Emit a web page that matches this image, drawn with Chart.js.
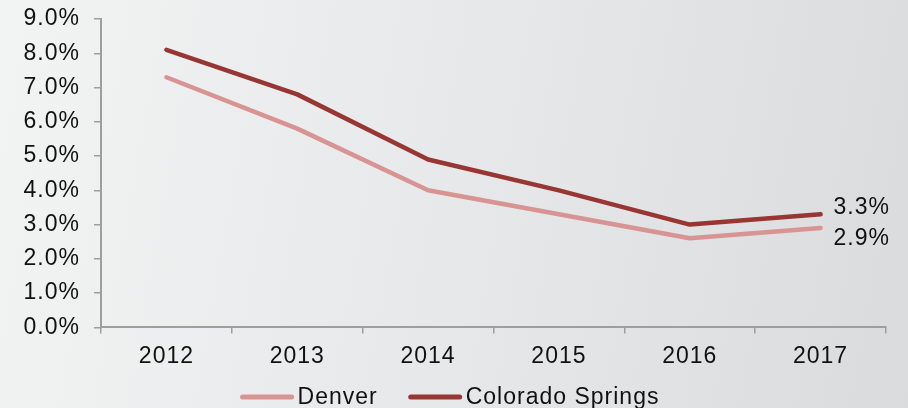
<!DOCTYPE html>
<html>
<head>
<meta charset="utf-8">
<script src="https://cdn.jsdelivr.net/npm/chart.js@4"></script>
<style>
  html, body { margin: 0; padding: 0; }
  body {
    width: 908px; height: 408px; overflow: hidden;
    background: linear-gradient(100deg, #f2f3f3 0%, #e6e7e8 55%, #dadbdc 100%);
  }
  #wrap { position: relative; width: 908px; height: 408px; }
</style>
</head>
<body>
<div id="wrap"><canvas id="chart"></canvas></div>
<script>
// values in percent
const years = ['2012', '2013', '2014', '2015', '2016', '2017'];
const denver = [7.3, 5.8, 4.0, 3.3, 2.6, 2.9];
const coloradoSprings = [8.1, 6.8, 4.9, 4.0, 3.0, 3.3];
const yTicks = [0, 1, 2, 3, 4, 5, 6, 7, 8, 9];

const FONT = '"Liberation Sans", Arial, Helvetica, sans-serif';
const axisGrey = '#9e9e9e';

// reference text is a bit wider than Liberation Sans
const wideText = {
    id: 'wideText',
    beforeLayout(chart) { chart.ctx.letterSpacing = '1px'; },
    beforeDraw(chart) { chart.ctx.letterSpacing = '1px'; }
};

// end-of-line value labels
const endLabels = {
    id: 'endLabels',
    afterDatasetsDraw(chart) {
        const ctx = chart.ctx;
        ctx.save();
        ctx.font = '23px ' + FONT;
        ctx.fillStyle = '#111';
        ctx.textAlign = 'left';
        ctx.textBaseline = 'middle';
        chart.data.datasets.forEach((ds, i) => {
            const meta = chart.getDatasetMeta(i);
            const pt = meta.data[meta.data.length - 1];
            const v = ds.data[ds.data.length - 1];
            ctx.fillText(v.toFixed(1) + '%', pt.x + 13, pt.y + ds.labelShift);
        });
        ctx.restore();
    }
};

// legend drawn below the axis labels
const lineLegend = {
    id: 'lineLegend',
    afterDraw(chart) {
        const ctx = chart.ctx;
        const swatch = 53, gapText = 4, gapItem = 31;
        ctx.save();
        ctx.font = '23px ' + FONT;
        const items = chart.data.datasets.map(ds => ({
            label: ds.label, color: ds.borderColor, w: ctx.measureText(ds.label).width
        }));
        const total = items.reduce((s, it) => s + swatch + gapText + it.w, 0) + gapItem * (items.length - 1);
        let x = (chart.width - total) / 2 - 4;
        const y = 397;
        items.forEach(it => {
            ctx.strokeStyle = it.color;
            ctx.lineWidth = 5;
            ctx.lineCap = 'round';
            ctx.beginPath();
            ctx.moveTo(x + 2, y);
            ctx.lineTo(x + swatch - 2, y);
            ctx.stroke();
            ctx.fillStyle = '#111';
            ctx.textAlign = 'left';
            ctx.textBaseline = 'middle';
            ctx.fillText(it.label, x + swatch + gapText, y + 1);
            x += swatch + gapText + it.w + gapItem;
        });
        ctx.restore();
    }
};

new Chart(document.getElementById('chart'), {
    type: 'line',
    data: {
        labels: years,
        datasets: [
            { label: 'Denver', data: denver, borderColor: '#d89393', labelShift: 11 },
            { label: 'Colorado Springs', data: coloradoSprings, borderColor: '#983634', labelShift: -7 }
        ]
    },
    options: {
        responsive: true,
        maintainAspectRatio: false,
        animation: false,
        layout: { padding: { top: 19, right: 22, bottom: 29, left: 0 } },
        elements: {
            line: { borderWidth: 4.5, tension: 0, borderCapStyle: 'round', borderJoinStyle: 'round' },
            point: { radius: 0, hoverRadius: 0 }
        },
        plugins: { legend: { display: false }, tooltip: { enabled: false } },
        scales: {
            x: {
                offset: true,
                grid: { offset: true, drawOnChartArea: false, drawTicks: true, tickLength: 6, color: axisGrey, lineWidth: 1.5 },
                border: { color: axisGrey, width: 2 },
                ticks: { color: '#111', padding: 9, font: { family: FONT, size: 23 }, maxRotation: 0 }
            },
            y: {
                min: yTicks[0],
                max: yTicks[yTicks.length - 1],
                afterFit: s => { s.width = 101; s.paddingTop = 0; s.paddingBottom = 0; },
                afterBuildTicks: s => { s.ticks = yTicks.map(v => ({ value: v })); },
                grid: { drawOnChartArea: false, drawTicks: true, tickLength: 7, color: axisGrey, lineWidth: 1.5 },
                border: { color: axisGrey, width: 2 },
                ticks: { color: '#111', padding: 14, font: { family: FONT, size: 23 }, callback: v => v.toFixed(1) + '%' }
            }
        }
    },
    plugins: [wideText, endLabels, lineLegend]
});
</script>
</body>
</html>
